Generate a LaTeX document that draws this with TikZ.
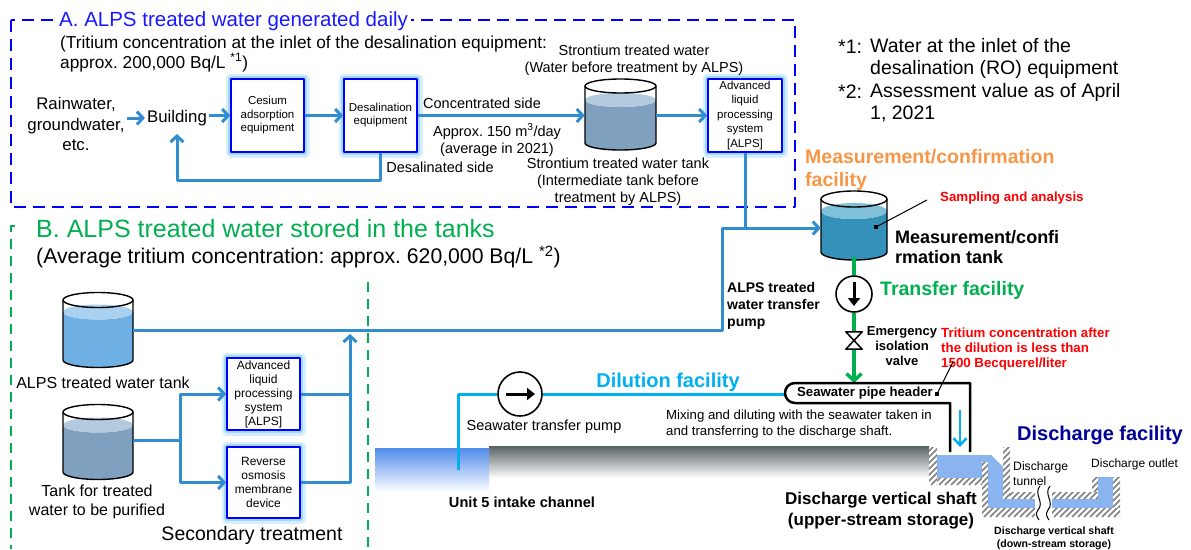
\documentclass[tikz,border=0pt]{standalone}
\usepackage{fontspec}
\setmainfont{Liberation Sans}
\usetikzlibrary{arrows.meta,calc}
\frenchspacing

\definecolor{pipeblue}{RGB}{50,140,208}
\definecolor{seacyan}{RGB}{0,176,240}
\definecolor{xgreen}{RGB}{0,176,80}
\definecolor{boxblue}{RGB}{0,0,255}
\definecolor{glowc}{RGB}{120,200,255}
\definecolor{titleblue}{RGB}{25,25,255}
\definecolor{xorange}{RGB}{247,150,70}
\definecolor{xred}{RGB}{255,0,0}
\definecolor{navy}{RGB}{0,0,150}
\definecolor{hatchc}{RGB}{128,128,128}
\definecolor{shaftblue}{RGB}{138,180,240}
\definecolor{srbody}{RGB}{128,160,192}
\definecolor{srsurf}{RGB}{180,202,222}
\definecolor{mtbody}{RGB}{52,146,186}
\definecolor{mtsurf}{RGB}{128,192,216}
\definecolor{tkbody}{RGB}{110,175,228}
\definecolor{tksurf}{RGB}{170,210,240}
\definecolor{grounddark}{RGB}{88,98,100}
\definecolor{intakeblue}{RGB}{80,140,235}

\newcommand\fsz[2]{\fontsize{#1}{#2}\selectfont}

% cylinder tank: left x, right x, top ellipse y, bottom ellipse y, water level y, body, surface, y radius
\newcommand\tank[8]{%
  \pgfmathsetmacro\rx{(#2-#1)/2}%
  \fill[white] (#1,#3) -- (#1,#4) arc[start angle=180,end angle=360,x radius=\rx pt,y radius=#8pt]
     -- (#2,#3) arc[start angle=0,end angle=180,x radius=\rx pt,y radius=#8pt] -- cycle;
  \fill[#6] (#1,#5) -- (#1,#4) arc[start angle=180,end angle=360,x radius=\rx pt,y radius=#8pt]
     -- (#2,#5) arc[start angle=0,end angle=-180,x radius=\rx pt,y radius=#8pt] -- cycle;
  \fill[#7] ({(#1+#2)/2},#5) ellipse[x radius=\rx pt,y radius=#8pt];
  \draw[line width=1.4pt] (#1,#3) -- (#1,#4) arc[start angle=180,end angle=360,x radius=\rx pt,y radius=#8pt] -- (#2,#3);
  \draw[line width=1.4pt] ({(#1+#2)/2},#3) ellipse[x radius=\rx pt,y radius=#8pt];
}

% hatched concrete wall
\newcommand\hatch[4]{%
  \begin{scope}
    \clip (#1,#2) rectangle (#3,#4);
    \fill[white] (#1,#2) rectangle (#3,#4);
    \foreach \k in {-64,-58,...,200} \draw[hatchc,line width=1.5pt] ({#1+\k},#4) -- ++(64,-64);
  \end{scope}}

\begin{document}
\begin{tikzpicture}[x=1pt,y=-1pt,line join=round,
  pipe/.style={draw=pipeblue,line width=3pt},
  arr/.style={-{Straight Barb[length=6pt,width=13pt]}},
  seapipe/.style={draw=seacyan,line width=3pt},
  gpipe/.style={draw=xgreen,line width=3.5pt},
  garr/.style={-{Straight Barb[length=7pt,width=15pt]}},
  glowbox/.style={draw=boxblue,line width=1.6pt,fill=white,inner sep=0pt,align=center,
    preaction={draw=glowc,line width=11pt,opacity=0.3},
    preaction={draw=glowc,line width=6pt,opacity=0.55}},
  lbl/.style={inner sep=1pt,align=center},
  hold/.style={inner sep=0pt,minimum width=#1},
  pumpc/.style={draw,circle,line width=1.6pt,fill=white,inner sep=0pt},
  pumparr/.style={line width=3pt,-{Triangle[length=8pt,width=12pt]}},
  boxAline/.style={draw=boxblue,line width=2.5pt,dash pattern=on 12pt off 7pt},
  boxBline/.style={draw=xgreen,line width=2pt,dash pattern=on 10pt off 7pt}]

\useasboundingbox (0,0) rectangle (1191,549);
\fill[white] (0,0) rectangle (1191,549);

% ---------- frames of the two source areas ----------
\draw[boxAline] (11,20) rectangle (795,207);
\draw[boxBline] (15,226) -- (11,226) -- (11,549);
\draw[boxBline] (368,282) -- (368,549);

\node[lbl,anchor=west,fill=white,inner xsep=3pt,text=titleblue,font=\fsz{20.5}{24}] (ttlA) at (56,21)
  {A. ALPS treated water generated daily};
\node[lbl,anchor=west,align=left,font=\fsz{17.3}{18}] (subA) at (59,54)
  {(Tritium concentration at the inlet of the desalination equipment:\\approx. 200,000 Bq/L \textsuperscript{*1})};

\node[lbl,anchor=west,text=xgreen,font=\fsz{25}{28}] (ttlB) at (35,229)
  {B. ALPS treated water stored in the tanks};
\node[lbl,anchor=west,font=\fsz{21.2}{24}] (subB) at (35,257)
  {(Average tritium concentration: approx. 620,000 Bq/L \textsuperscript{*2})};

% ---------- notes ----------
\node[lbl,anchor=west,font=\fsz{19.5}{22}] (n1) at (837,47) {*1:};
\node[lbl,anchor=west,align=left,font=\fsz{19.5}{22.5}] (n1t) at (869,58.5)
  {Water at the inlet of the\\desalination (RO) equipment};
\node[lbl,anchor=west,font=\fsz{19.5}{22}] (n2) at (837,92) {*2:};
\node[lbl,anchor=west,align=left,font=\fsz{19.5}{21.5}] (n2t) at (869,102.5)
  {Assessment value as of April\\1, 2021};

% ---------- A: daily generation ----------
\node[lbl,inner sep=2pt,font=\fsz{16.8}{20.5}] (rain) at (76,124) {Rainwater,\\groundwater,\\etc.};
\node[lbl,inner sep=2pt,font=\fsz{16.8}{20}] (bldg) at (177,118) {Building};
\node[glowbox,minimum width=73pt,minimum height=73pt,font=\fsz{11.5}{13.5}] (cs) at (267.5,115.5)
  {Cesium\\adsorption\\equipment};
\node[glowbox,minimum width=73pt,minimum height=73pt,font=\fsz{11.5}{13}] (ds) at (380.5,115.5)
  {Desalination\\equipment};
\node[hold=71pt,minimum height=64pt] (srtank) at (620.5,115.5) {};
\tank{585}{656}{86}{143}{100}{srbody}{srsurf}{7}
\node[glowbox,minimum width=74pt,minimum height=73pt,font=\fsz{11.5}{14.5}] (aa) at (745,115.5)
  {Advanced\\liquid\\processing\\system\\{[ALPS]}};

\draw[pipe,arr] (rain.east |- bldg.west) -- (bldg.west);
\draw[pipe,arr] (bldg.east |- cs.west) -- (cs.west);
\draw[pipe,arr] (cs.east) -- (ds.west);
\draw[pipe,arr] (ds.south) -- ++(0,28) -| ([yshift=-6pt]bldg.south);
\draw[pipe,arr] (ds.east) -- (srtank.west);
\draw[pipe,arr] (srtank.east) -- (aa.west);

\node[lbl,font=\fsz{14.5}{17}] (conc) at (482,103) {Concentrated side};
\node[lbl,font=\fsz{14.5}{17}] (flow) at (497,140) {Approx. 150 m\textsuperscript{3}/day\\(average in 2021)};
\node[lbl,font=\fsz{14.5}{17}] (desl) at (440,167) {Desalinated side};
\node[lbl,font=\fsz{14.5}{17}] (srw) at (634,60) {Strontium treated water\\(Water before treatment by ALPS)};
\node[lbl,font=\fsz{14.5}{17}] (srl) at (618,182) {Strontium treated water tank\\(Intermediate tank before\\treatment by ALPS)};

% ---------- B: stored water ----------
\node[hold=70pt,minimum height=60pt] (t1) at (98,330) {};
\tank{63}{133}{300}{360}{312}{tkbody}{tksurf}{7.5}
\node[hold=70pt,minimum height=60pt] (t2) at (98,440) {};
\tank{63}{133}{412}{472}{425}{srbody}{srsurf}{7.5}
\node[lbl,font=\fsz{16}{19}] (t1l) at (103,383) {ALPS treated water tank};
\node[lbl,font=\fsz{16}{19}] (t2l) at (97,502) {Tank for treated\\water to be purified};

\node[glowbox,minimum width=73pt,minimum height=72pt,font=\fsz{12}{14}] (alpsB) at (263.5,394)
  {Advanced\\liquid\\processing\\system\\{[ALPS]}};
\node[glowbox,minimum width=73pt,minimum height=71pt,font=\fsz{12}{14}] (ro) at (263.5,482.5)
  {Reverse\\osmosis\\membrane\\device};
\node[lbl,font=\fsz{19.5}{22}] (sec) at (252,535) {Secondary treatment};

\coordinate (split) at (180,440);
\coordinate (mrg) at (350,334);
\draw[pipe] (t2.east) -- (split);
\draw[pipe,arr] (split) |- (alpsB.west);
\draw[pipe,arr] (split) |- (ro.west);
\draw[pipe] (alpsB.east) -- (alpsB.east -| mrg);
\draw[pipe,arr] (ro.east) -| (mrg);

% ---------- measurement / confirmation ----------
\node[hold=66pt,minimum height=58pt] (mt) at (854,228) {};
\tank{821}{887}{199}{252}{211}{mtbody}{mtsurf}{8}
\coordinate (bend) at (722,330);
\draw[pipe,arr] (t1.east) -- (bend) |- (mt.west);
\draw[pipe] (aa.south) -- (aa.south |- mt.west);

\node[lbl,anchor=west,align=left,text=xorange,font=\bfseries\fsz{19.5}{23}] (mcf) at (804,170)
  {Measurement/confirmation\\facility};
\node[lbl,anchor=west,text=xred,font=\bfseries\fsz{13.3}{15}] (samp) at (939,198) {Sampling and analysis};
\node[fill,inner sep=0pt,minimum size=4.5pt] (sq1) at (876,227) {};
\coordinate (sampend) at (927,200);
\draw[line width=1pt] (sq1.center) -- (sampend);
\node[lbl,anchor=west,align=left,font=\bfseries\fsz{18}{20}] (mtl) at (894,247) {Measurement/confi\\rmation tank};
\node[lbl,anchor=west,align=left,font=\bfseries\fsz{14}{17}] (aplabel) at (726,306) {ALPS treated\\water transfer\\pump};

% transfer facility
\node[pumpc,minimum size=36pt] (tp) at (854,294) {};
\draw[pumparr] ([yshift=12pt]tp.center) -- ([yshift=-12pt]tp.center);
\node[lbl,anchor=west,text=xgreen,font=\bfseries\fsz{19.5}{22}] (tfl) at (879,290) {Transfer facility};
\node[inner sep=0pt,minimum width=16pt,minimum height=17pt] (valve) at (854,340.5) {};
\coordinate (hdrtop) at (854,383);
\draw[gpipe] (mt.south) -- (tp.north);
\draw[gpipe] (tp.south) -- (valve.north);
\draw[gpipe,garr] (valve.south) -- (hdrtop);
\draw[line width=1.5pt,fill=white] (valve.north west) -- (valve.north east) -- (valve.south west) -- (valve.south east) -- cycle;
\node[lbl,font=\bfseries\fsz{13}{15}] (vl) at (902,346) {Emergency\\isolation\\valve};
\node[lbl,anchor=west,align=left,text=xred,font=\bfseries\fsz{13.3}{15}] (trit) at (940,349)
  {Tritium concentration after\\the dilution is less than\\1500 Becquerel/liter};

% ---------- dilution facility ----------
\shade[top color=grounddark,bottom color=white] (489,446) rectangle (929,478);
\shade[top color=intakeblue,bottom color=white] (375,448) rectangle (489,492);
\node[lbl,font=\bfseries\fsz{14.6}{17}] (intl) at (522,502) {Unit 5 intake channel};

\coordinate (intk) at (458,470);
\coordinate (hdrL) at (785,394);
\node[pumpc,minimum size=44pt] (sp) at (520,394) {};
\draw[seapipe] (intk) |- (sp.west);
\draw[seapipe] (sp.east) -- (hdrL);
\draw[pumparr] ([xshift=-14pt]sp.center) -- ([xshift=15pt]sp.center);
\node[lbl,text=seacyan,font=\bfseries\fsz{20}{22}] (dfl) at (668,382) {Dilution facility};
\node[lbl,font=\fsz{14.5}{17}] (spl) at (544,427) {Seawater transfer pump};
\node[lbl,anchor=west,align=left,font=\fsz{13.2}{16}] (mix) at (665,424)
  {Mixing and diluting with the seawater taken in\\and transferring to the discharge shaft.};

% seawater pipe header
\draw[line width=2.5pt,fill=white] (970,452) -- (970,383) -- (795,383)
  arc[start angle=90,end angle=270,radius=10pt] -- (950,403) -- (950,452);
\node[lbl,font=\bfseries\fsz{13.2}{15}] (hdr) at (865,393) {Seawater pipe header};
\coordinate (dropA) at (960,410);
\coordinate (dropB) at (960,447);
\draw[seacyan,line width=2.5pt,-{Straight Barb[length=7pt,width=13pt]}] (dropA) -- (dropB);
\node[fill,inner sep=0pt,minimum size=4.5pt] (sq2) at (937,394) {};
\coordinate (tritend) at (953,362);
\draw[line width=1pt] (sq2.center) -- (tritend);

% ---------- discharge facility ----------
\fill[shaftblue] (937,455) -- (991,455) -- (1003,467) -- (1003,508) -- (988,508) -- (988,478) -- (937,478) -- cycle;
\fill[shaftblue] (988,499) rectangle (1035,508);
\fill[shaftblue] (1052,499) rectangle (1113,508);
\fill[shaftblue] (1098,477) rectangle (1113,508);
\hatch{929}{447}{937}{485}
\hatch{937}{478}{982}{485}
\hatch{982}{462}{988}{517}
\hatch{1003}{447}{1010}{499}
\hatch{1010}{492}{1035}{499}
\hatch{1052}{492}{1098}{499}
\hatch{1092}{477}{1098}{492}
\hatch{1113}{477}{1120}{517}
\hatch{988}{508}{1035}{517}
\hatch{1052}{508}{1120}{517}
\draw[line width=1pt] (1040,486) .. controls (1033,494) and (1045,502) .. (1038,510) .. controls (1035,514) and (1037,517) .. (1039,520);
\draw[line width=1pt] (1050,486) .. controls (1043,494) and (1055,502) .. (1048,510) .. controls (1045,514) and (1047,517) .. (1049,520);

\node[lbl,text=navy,font=\bfseries\fsz{20}{22}] (dcf) at (1100,435) {Discharge facility};
\node[lbl,anchor=west,align=left,font=\fsz{12.2}{15}] (dtun) at (1012,474) {Discharge\\tunnel};
\node[lbl,anchor=west,font=\fsz{12}{14}] (dout) at (1090,464) {Discharge outlet};
\node[lbl,font=\bfseries\fsz{17}{21}] (ushaft) at (881,511) {Discharge vertical shaft\\(upper-stream storage)};
\node[lbl,font=\bfseries\fsz{10.6}{13}] (dshaft) at (1054,538) {Discharge vertical shaft\\(down-stream storage)};

\end{tikzpicture}
\end{document}
